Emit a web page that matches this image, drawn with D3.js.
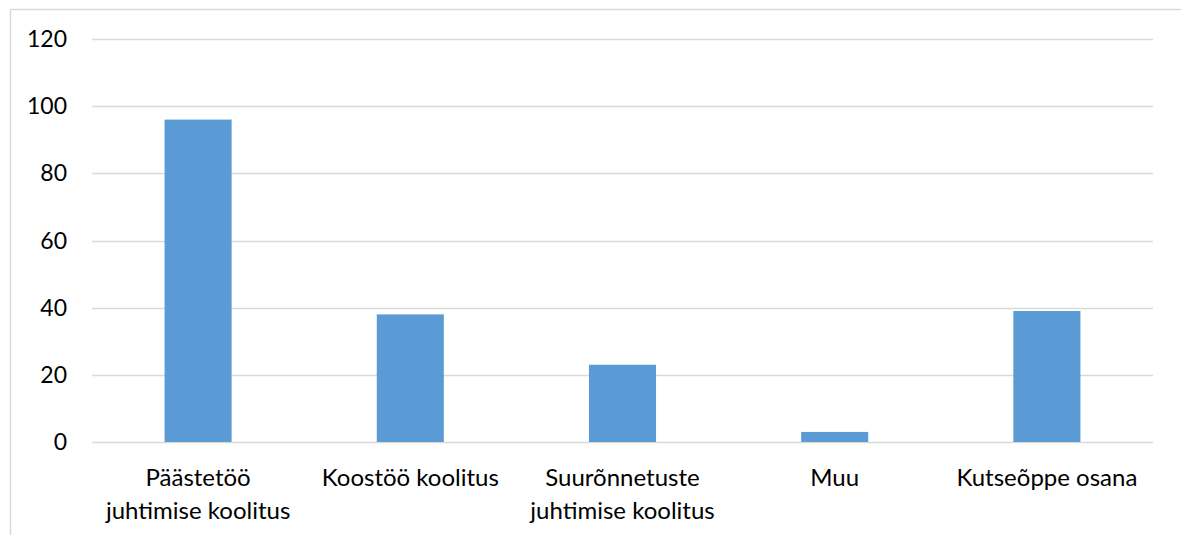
<html>
<head>
    <meta charset="utf-8">
    <script src="https://d3js.org/d3.v7.min.js"></script>
    <style>
        body { margin: 0; background: #fff; }
        text { font-family: Lato, "Open Sans", sans-serif; fill: #000; }
    </style>
</head>
<body>
    <svg id="chart" width="1181" height="535"></svg>
    <script>
        // data
        var categories = [
            ["Päästetöö", "juhtimise koolitus"],
            ["Koostöö koolitus"],
            ["Suurõnnetuste", "juhtimise koolitus"],
            ["Muu"],
            ["Kutseõppe osana"]
        ];
        var values = [96, 38, 23, 3, 39];
        var yTicks = [0, 20, 40, 60, 80, 100, 120];

        var svg = d3.select("#chart"),
            margin = { top: 39, right: 28, bottom: 93, left: 92 },
            width = svg.attr("width") - margin.left - margin.right,
            height = svg.attr("height") - margin.top - margin.bottom;

        // chart border
        svg.append("rect")
            .attr("x", 10.5).attr("y", 9.5)
            .attr("width", 1200).attr("height", 600)
            .attr("fill", "none")
            .attr("stroke", "#d9d9d9")
            .attr("stroke-width", 1.5);

        var names = categories.map(function (d) { return d.join(" "); });
        var xScale = d3.scaleBand().domain(names).range([0, width]).padding(0),
            yScale = d3.scaleLinear().domain([0, 120]).range([height, 0]);

        var g = svg.append("g")
            .attr("transform", "translate(" + margin.left + "," + margin.top + ")");

        // gridlines
        g.selectAll(".grid")
            .data(yTicks)
            .enter().append("line")
            .attr("class", "grid")
            .attr("x1", 0).attr("x2", width)
            .attr("y1", function (d) { return Math.round(yScale(d)) + 0.5; })
            .attr("y2", function (d) { return Math.round(yScale(d)) + 0.5; })
            .attr("stroke", "#d9d9d9")
            .attr("stroke-width", 1.5);

        // y tick labels
        g.selectAll(".ylab")
            .data(yTicks)
            .enter().append("text")
            .attr("class", "ylab")
            .attr("x", -25)
            .attr("y", function (d) { return yScale(d); })
            .attr("dy", "0.35em")
            .style("text-anchor", "end")
            .style("font-size", "23px")
            .text(function (d) { return d; });

        var barW = xScale.bandwidth() * 0.316;
        g.selectAll(".bar")
            .data(values)
            .enter().append("rect")
            .attr("class", "bar")
            .attr("x", function (_, i) { return xScale(names[i]) + (xScale.bandwidth() - barW) / 2; })
            .attr("y", function (d) { return yScale(d); })
            .attr("width", barW)
            .attr("height", function (d) { return height - yScale(d); })
            .attr("fill", "#5b9bd5");

        // category labels
        var labels = g.selectAll(".xlab")
            .data(categories)
            .enter().append("text")
            .attr("class", "xlab")
            .attr("transform", function (_, i) {
                return "translate(" + (xScale(names[i]) + xScale.bandwidth() / 2) + "," + (height + 44) + ")";
            })
            .style("text-anchor", "middle")
            .style("font-size", "24px");
        labels.selectAll("tspan")
            .data(function (d) { return d; })
            .enter().append("tspan")
            .attr("x", 0)
            .attr("y", function (_, j) { return j * 33; })
            .text(function (d) { return d; });
    </script>
</body>
</html>
